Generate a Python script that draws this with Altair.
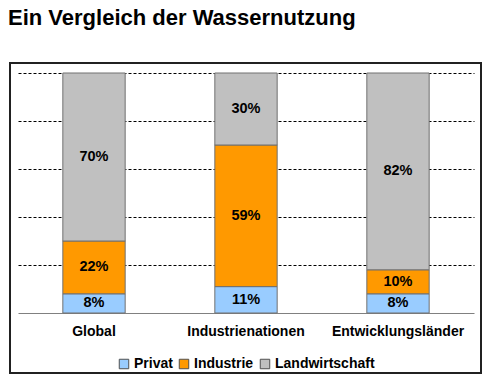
import altair as alt
import pandas as pd

regions = ["Global", "Industrienationen", "Entwicklungsländer"]
uses = ["Privat", "Industrie", "Landwirtschaft"]
privat = [8, 11, 8]
industrie = [22, 59, 10]
landwirtschaft = [70, 30, 82]
colors = ["#99CCFF", "#FF9900", "#C0C0C0"]
grid_values = [20, 40, 60, 80, 100]

rows = []
for i, r in enumerate(regions):
    base = 0
    for u, vals in zip(uses, [privat, industrie, landwirtschaft]):
        v = vals[i]
        rows.append({"Region": r, "Nutzung": u, "order": uses.index(u),
                     "y0": base, "y1": base + v, "mid": base + v / 2,
                     "label": f"{v}%"})
        base += v
df = pd.DataFrame(rows)

FONT = "Liberation Sans"

x = alt.X("Region:N", sort=regions, title=None,
          scale=alt.Scale(paddingInner=0.59, paddingOuter=0.295),
          axis=alt.Axis(labelAngle=0, labelFont=FONT, labelFontSize=14,
                        labelFontWeight="bold", labelColor="#000000",
                        labelPadding=11, ticks=False, domainColor="#808080",
                        domainWidth=1.2))
yscale = alt.Scale(domain=[0, 100], nice=False)

bars = alt.Chart(df).mark_bar(stroke="#707070", strokeWidth=1).encode(
    x=x,
    y=alt.Y("y0:Q", scale=yscale, title=None,
            axis=alt.Axis(labels=False, ticks=False, domain=False, grid=True,
                          minExtent=0, values=grid_values, gridColor="#000000",
                          gridDash=[3, 2], gridWidth=1)),
    y2="y1:Q",
    color=alt.Color("Nutzung:N", sort=uses,
                    scale=alt.Scale(domain=uses, range=colors),
                    legend=alt.Legend(title=None, orient="none", direction="horizontal",
                                      legendX=99, legendY=284,
                                      symbolType="square", symbolSize=90,
                                      symbolStrokeColor="#505050", symbolStrokeWidth=1,
                                      labelFont=FONT, labelFontSize=14,
                                      labelFontWeight="bold", labelColor="#000000",
                                      labelOffset=3, columnPadding=4,
                                      symbolOffset=0)),
)

text = alt.Chart(df).mark_text(font=FONT, fontSize=14.5, fontWeight="bold",
                               color="#000000").encode(
    x=alt.X("Region:N", sort=regions),
    y=alt.Y("mid:Q", scale=yscale),
    text="label:N",
)

frame = alt.Chart(df).mark_rect(fill=None, stroke="#222222", strokeWidth=1.5).encode(
    x=alt.value(-8), x2=alt.value(463), y=alt.value(-10), y2=alt.value(300)
)

chart = alt.layer(bars, text, frame).properties(
    width=456, height=240,
    title=alt.TitleParams("Ein Vergleich der Wassernutzung", anchor="start",
                          frame="group",
                          font=FONT, fontSize=22, fontWeight="bold", color="#000000",
                          dx=-10, offset=32),
    autosize=alt.AutoSizeParams(type="none"),
    padding={"left": 10, "top": 65, "right": 8, "bottom": 61},
).configure_view(stroke=None)

chart.save("out.html", embed_options={"renderer": "svg", "actions": False})
